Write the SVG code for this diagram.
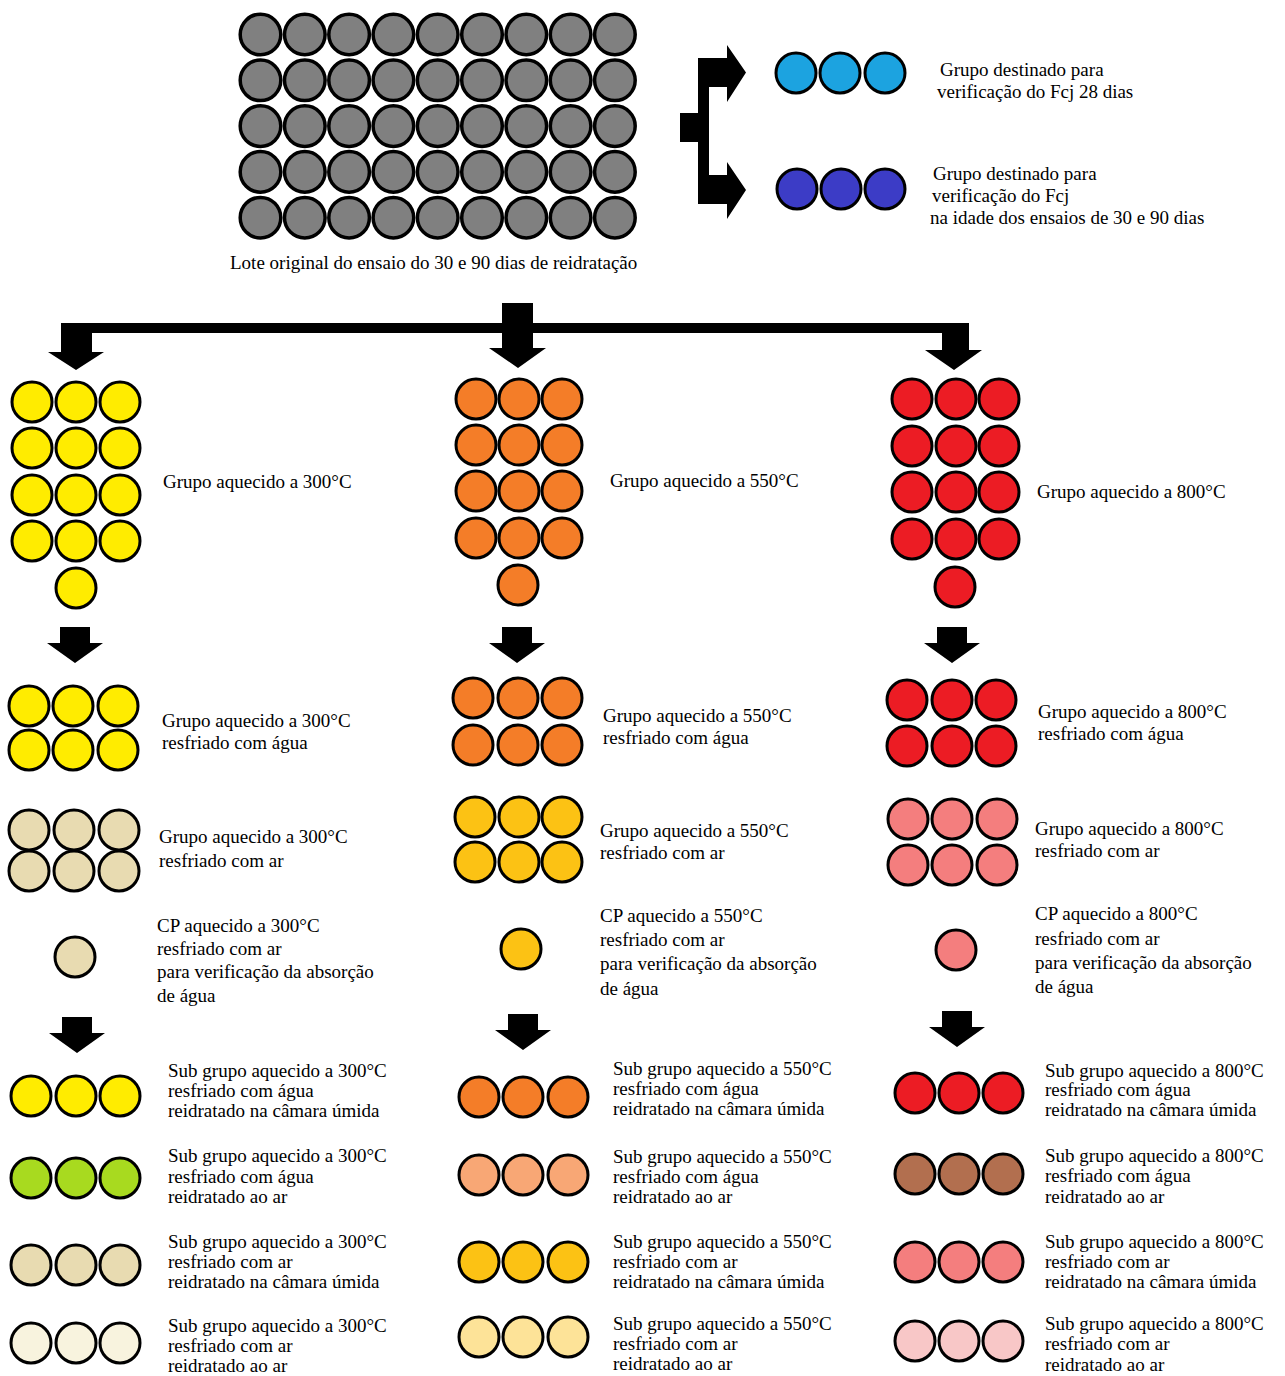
<svg xmlns="http://www.w3.org/2000/svg" width="1285" height="1376" viewBox="0 0 1285 1376">
<style>
text{font-family:"Liberation Serif","Times New Roman",serif;font-size:19px;fill:#000}
circle{stroke:#000;stroke-width:3}
.gr{fill:#808080;stroke-width:3.5}
.lb{fill:#1ca3e0}
.db{fill:#3c3cc6}
.y{fill:#ffec00}
.be{fill:#e8dbb1}
.cr{fill:#f8f3de}
.gn{fill:#a8da1f}
.o{fill:#f47d28}
.lo{fill:#f8a775}
.go{fill:#fcc214}
.lg{fill:#fde398}
.r{fill:#ec1c24}
.br{fill:#b26f4f}
.pk{fill:#f47e7e}
.lp{fill:#f8c7c7}
.arr{fill:#000}
</style>
<defs>
<path id="dn" d="M-15,-36 H15 V-20 H28 L0,0 L-28,-20 H-15 Z"/>
</defs>
<rect width="1285" height="1376" fill="#fff"/>

<g id="connectors">
<path class="arr" d="M61,323 H502 V303 H533 V323 H969 V350 H982 L954,370 L925,350 H942 V333 H533 V348 H546 L518,368 L489,348 H502 V333 H92 V352 H104 L76,370 L48,352 H61 Z"/>
<path class="arr" d="M698,58 H727 V45 L746,72.5 L727,102 V87 H709 V175 H727 V162 L746,190 L727,219 V204 H698 Z"/>
<rect class="arr" x="680" y="113" width="19" height="29"/>
<use href="#dn" x="75" y="663"/>
<use href="#dn" x="517" y="663"/>
<use href="#dn" x="952" y="663"/>
<use href="#dn" x="77" y="1053"/>
<use href="#dn" x="523" y="1050"/>
<use href="#dn" x="957" y="1047"/>
</g>

<g id="lote-original">
<g class="gr">
<circle class="gr" cx="260.5" cy="34.5" r="20.3"/><circle class="gr" cx="304.8" cy="34.5" r="20.3"/><circle class="gr" cx="349.1" cy="34.5" r="20.3"/><circle class="gr" cx="393.4" cy="34.5" r="20.3"/><circle class="gr" cx="437.7" cy="34.5" r="20.3"/><circle class="gr" cx="482" cy="34.5" r="20.3"/><circle class="gr" cx="526.3" cy="34.5" r="20.3"/><circle class="gr" cx="570.6" cy="34.5" r="20.3"/><circle class="gr" cx="614.9" cy="34.5" r="20.3"/>
<circle class="gr" cx="260.5" cy="80.3" r="20.3"/><circle class="gr" cx="304.8" cy="80.3" r="20.3"/><circle class="gr" cx="349.1" cy="80.3" r="20.3"/><circle class="gr" cx="393.4" cy="80.3" r="20.3"/><circle class="gr" cx="437.7" cy="80.3" r="20.3"/><circle class="gr" cx="482" cy="80.3" r="20.3"/><circle class="gr" cx="526.3" cy="80.3" r="20.3"/><circle class="gr" cx="570.6" cy="80.3" r="20.3"/><circle class="gr" cx="614.9" cy="80.3" r="20.3"/>
<circle class="gr" cx="260.5" cy="126.1" r="20.3"/><circle class="gr" cx="304.8" cy="126.1" r="20.3"/><circle class="gr" cx="349.1" cy="126.1" r="20.3"/><circle class="gr" cx="393.4" cy="126.1" r="20.3"/><circle class="gr" cx="437.7" cy="126.1" r="20.3"/><circle class="gr" cx="482" cy="126.1" r="20.3"/><circle class="gr" cx="526.3" cy="126.1" r="20.3"/><circle class="gr" cx="570.6" cy="126.1" r="20.3"/><circle class="gr" cx="614.9" cy="126.1" r="20.3"/>
<circle class="gr" cx="260.5" cy="171.9" r="20.3"/><circle class="gr" cx="304.8" cy="171.9" r="20.3"/><circle class="gr" cx="349.1" cy="171.9" r="20.3"/><circle class="gr" cx="393.4" cy="171.9" r="20.3"/><circle class="gr" cx="437.7" cy="171.9" r="20.3"/><circle class="gr" cx="482" cy="171.9" r="20.3"/><circle class="gr" cx="526.3" cy="171.9" r="20.3"/><circle class="gr" cx="570.6" cy="171.9" r="20.3"/><circle class="gr" cx="614.9" cy="171.9" r="20.3"/>
<circle class="gr" cx="260.5" cy="217.7" r="20.3"/><circle class="gr" cx="304.8" cy="217.7" r="20.3"/><circle class="gr" cx="349.1" cy="217.7" r="20.3"/><circle class="gr" cx="393.4" cy="217.7" r="20.3"/><circle class="gr" cx="437.7" cy="217.7" r="20.3"/><circle class="gr" cx="482" cy="217.7" r="20.3"/><circle class="gr" cx="526.3" cy="217.7" r="20.3"/><circle class="gr" cx="570.6" cy="217.7" r="20.3"/><circle class="gr" cx="614.9" cy="217.7" r="20.3"/>
</g>
<text x="230" y="269">Lote original do ensaio do 30 e 90 dias de reidratação</text>
</g>

<g id="grupo-fcj-28">
<circle class="lb" cx="796" cy="73" r="20"/><circle class="lb" cx="840" cy="73" r="20"/><circle class="lb" cx="885" cy="73" r="20"/>
<text x="940" y="76">Grupo destinado para</text>
<text x="937" y="98">verificação do Fcj 28 dias</text>
</g>

<g id="grupo-fcj-idade">
<circle class="db" cx="797" cy="189" r="20"/><circle class="db" cx="841" cy="189" r="20"/><circle class="db" cx="885" cy="189" r="20"/>
<text x="933" y="180">Grupo destinado para</text>
<text x="932" y="202">verificação do Fcj</text>
<text x="930" y="224">na idade dos ensaios de 30 e 90 dias</text>
</g>

<!-- 300 column -->
<g id="g300">
<circle class="y" cx="32" cy="402" r="20"/><circle class="y" cx="76" cy="402" r="20"/><circle class="y" cx="120" cy="402" r="20"/>
<circle class="y" cx="32" cy="448" r="20"/><circle class="y" cx="76" cy="448" r="20"/><circle class="y" cx="120" cy="448" r="20"/>
<circle class="y" cx="32" cy="495" r="20"/><circle class="y" cx="76" cy="495" r="20"/><circle class="y" cx="120" cy="495" r="20"/>
<circle class="y" cx="32" cy="541" r="20"/><circle class="y" cx="76" cy="541" r="20"/><circle class="y" cx="120" cy="541" r="20"/>
<circle class="y" cx="76" cy="588" r="20"/>
<text x="163" y="488">Grupo aquecido a 300°C</text>
</g>
<g id="g300-agua">
<circle class="y" cx="29" cy="706" r="20"/><circle class="y" cx="73" cy="706" r="20"/><circle class="y" cx="118" cy="706" r="20"/>
<circle class="y" cx="29" cy="750" r="20"/><circle class="y" cx="73" cy="750" r="20"/><circle class="y" cx="118" cy="750" r="20"/>
<text x="162" y="727">Grupo aquecido a 300°C</text>
<text x="162" y="749">resfriado com água</text>
</g>
<g id="g300-ar">
<circle class="be" cx="29" cy="830" r="20"/><circle class="be" cx="74" cy="830" r="20"/><circle class="be" cx="119" cy="830" r="20"/>
<circle class="be" cx="29" cy="871" r="20"/><circle class="be" cx="74" cy="871" r="20"/><circle class="be" cx="119" cy="871" r="20"/>
<text x="159" y="843">Grupo aquecido a 300°C</text>
<text x="159" y="867">resfriado com ar</text>
</g>
<g id="cp300">
<circle class="be" cx="75" cy="957" r="20"/>
<text x="157" y="932">CP aquecido a 300°C</text>
<text x="157" y="955">resfriado com ar</text>
<text x="157" y="978">para verificação da absorção</text>
<text x="157" y="1002">de água</text>
</g>
<g id="sg300-agua-camara">
<circle class="y" cx="31" cy="1096" r="20"/><circle class="y" cx="76" cy="1096" r="20"/><circle class="y" cx="120" cy="1096" r="20"/>
<text x="168" y="1077">Sub grupo aquecido a 300°C</text>
<text x="168" y="1097">resfriado com água</text>
<text x="168" y="1117">reidratado na câmara úmida</text>
</g>
<g id="sg300-agua-ar">
<circle class="gn" cx="31" cy="1178" r="20"/><circle class="gn" cx="76" cy="1178" r="20"/><circle class="gn" cx="120" cy="1178" r="20"/>
<text x="168" y="1162">Sub grupo aquecido a 300°C</text>
<text x="168" y="1183">resfriado com água</text>
<text x="168" y="1203">reidratado ao ar</text>
</g>
<g id="sg300-ar-camara">
<circle class="be" cx="31" cy="1265" r="20"/><circle class="be" cx="76" cy="1265" r="20"/><circle class="be" cx="120" cy="1265" r="20"/>
<text x="168" y="1248">Sub grupo aquecido a 300°C</text>
<text x="168" y="1268">resfriado com ar</text>
<text x="168" y="1288">reidratado na câmara úmida</text>
</g>
<g id="sg300-ar-ar">
<circle class="cr" cx="31" cy="1343" r="20"/><circle class="cr" cx="76" cy="1343" r="20"/><circle class="cr" cx="120" cy="1343" r="20"/>
<text x="168" y="1332">Sub grupo aquecido a 300°C</text>
<text x="168" y="1352">resfriado com ar</text>
<text x="168" y="1372">reidratado ao ar</text>
</g>

<!-- 550 column -->
<g id="g550">
<circle class="o" cx="476" cy="399" r="20"/><circle class="o" cx="519" cy="399" r="20"/><circle class="o" cx="562" cy="399" r="20"/>
<circle class="o" cx="476" cy="445" r="20"/><circle class="o" cx="519" cy="445" r="20"/><circle class="o" cx="562" cy="445" r="20"/>
<circle class="o" cx="476" cy="491" r="20"/><circle class="o" cx="519" cy="491" r="20"/><circle class="o" cx="562" cy="491" r="20"/>
<circle class="o" cx="476" cy="538" r="20"/><circle class="o" cx="519" cy="538" r="20"/><circle class="o" cx="562" cy="538" r="20"/>
<circle class="o" cx="518" cy="585" r="20"/>
<text x="610" y="487">Grupo aquecido a 550°C</text>
</g>
<g id="g550-agua">
<circle class="o" cx="473" cy="698" r="20"/><circle class="o" cx="518" cy="698" r="20"/><circle class="o" cx="562" cy="698" r="20"/>
<circle class="o" cx="473" cy="745" r="20"/><circle class="o" cx="518" cy="745" r="20"/><circle class="o" cx="562" cy="745" r="20"/>
<text x="603" y="722">Grupo aquecido a 550°C</text>
<text x="603" y="744">resfriado com água</text>
</g>
<g id="g550-ar">
<circle class="go" cx="475" cy="817" r="20"/><circle class="go" cx="519" cy="817" r="20"/><circle class="go" cx="562" cy="817" r="20"/>
<circle class="go" cx="475" cy="862" r="20"/><circle class="go" cx="519" cy="862" r="20"/><circle class="go" cx="562" cy="862" r="20"/>
<text x="600" y="837">Grupo aquecido a 550°C</text>
<text x="600" y="859">resfriado com ar</text>
</g>
<g id="cp550">
<circle class="go" cx="521" cy="949" r="20"/>
<text x="600" y="922">CP aquecido a 550°C</text>
<text x="600" y="946">resfriado com ar</text>
<text x="600" y="970">para verificação da absorção</text>
<text x="600" y="995">de água</text>
</g>
<g id="sg550-agua-camara">
<circle class="o" cx="479" cy="1097" r="20"/><circle class="o" cx="523" cy="1097" r="20"/><circle class="o" cx="568" cy="1097" r="20"/>
<text x="613" y="1075">Sub grupo aquecido a 550°C</text>
<text x="613" y="1095">resfriado com água</text>
<text x="613" y="1115">reidratado na câmara úmida</text>
</g>
<g id="sg550-agua-ar">
<circle class="lo" cx="479" cy="1175" r="20"/><circle class="lo" cx="523" cy="1175" r="20"/><circle class="lo" cx="568" cy="1175" r="20"/>
<text x="613" y="1163">Sub grupo aquecido a 550°C</text>
<text x="613" y="1183">resfriado com água</text>
<text x="613" y="1203">reidratado ao ar</text>
</g>
<g id="sg550-ar-camara">
<circle class="go" cx="479" cy="1262" r="20"/><circle class="go" cx="523" cy="1262" r="20"/><circle class="go" cx="568" cy="1262" r="20"/>
<text x="613" y="1248">Sub grupo aquecido a 550°C</text>
<text x="613" y="1268">resfriado com ar</text>
<text x="613" y="1288">reidratado na câmara úmida</text>
</g>
<g id="sg550-ar-ar">
<circle class="lg" cx="479" cy="1337" r="20"/><circle class="lg" cx="523" cy="1337" r="20"/><circle class="lg" cx="568" cy="1337" r="20"/>
<text x="613" y="1330">Sub grupo aquecido a 550°C</text>
<text x="613" y="1350">resfriado com ar</text>
<text x="613" y="1370">reidratado ao ar</text>
</g>

<!-- 800 column -->
<g id="g800">
<circle class="r" cx="912" cy="399" r="20"/><circle class="r" cx="956" cy="399" r="20"/><circle class="r" cx="999" cy="399" r="20"/>
<circle class="r" cx="912" cy="446" r="20"/><circle class="r" cx="956" cy="446" r="20"/><circle class="r" cx="999" cy="446" r="20"/>
<circle class="r" cx="912" cy="492" r="20"/><circle class="r" cx="956" cy="492" r="20"/><circle class="r" cx="999" cy="492" r="20"/>
<circle class="r" cx="912" cy="539" r="20"/><circle class="r" cx="956" cy="539" r="20"/><circle class="r" cx="999" cy="539" r="20"/>
<circle class="r" cx="955" cy="587" r="20"/>
<text x="1037" y="498">Grupo aquecido a 800°C</text>
</g>
<g id="g800-agua">
<circle class="r" cx="907" cy="700" r="20"/><circle class="r" cx="952" cy="700" r="20"/><circle class="r" cx="996" cy="700" r="20"/>
<circle class="r" cx="907" cy="746" r="20"/><circle class="r" cx="952" cy="746" r="20"/><circle class="r" cx="996" cy="746" r="20"/>
<text x="1038" y="718">Grupo aquecido a 800°C</text>
<text x="1038" y="740">resfriado com água</text>
</g>
<g id="g800-ar">
<circle class="pk" cx="908" cy="819" r="20"/><circle class="pk" cx="952" cy="819" r="20"/><circle class="pk" cx="997" cy="819" r="20"/>
<circle class="pk" cx="908" cy="865" r="20"/><circle class="pk" cx="952" cy="865" r="20"/><circle class="pk" cx="997" cy="865" r="20"/>
<text x="1035" y="835">Grupo aquecido a 800°C</text>
<text x="1035" y="857">resfriado com ar</text>
</g>
<g id="cp800">
<circle class="pk" cx="956" cy="950" r="20"/>
<text x="1035" y="920">CP aquecido a 800°C</text>
<text x="1035" y="945">resfriado com ar</text>
<text x="1035" y="969">para verificação da absorção</text>
<text x="1035" y="993">de água</text>
</g>
<g id="sg800-agua-camara">
<circle class="r" cx="915" cy="1093" r="20"/><circle class="r" cx="959" cy="1093" r="20"/><circle class="r" cx="1003" cy="1093" r="20"/>
<text x="1045" y="1077">Sub grupo aquecido a 800°C</text>
<text x="1045" y="1096">resfriado com água</text>
<text x="1045" y="1116">reidratado na câmara úmida</text>
</g>
<g id="sg800-agua-ar">
<circle class="br" cx="915" cy="1174" r="20"/><circle class="br" cx="959" cy="1174" r="20"/><circle class="br" cx="1003" cy="1174" r="20"/>
<text x="1045" y="1162">Sub grupo aquecido a 800°C</text>
<text x="1045" y="1182">resfriado com água</text>
<text x="1045" y="1203">reidratado ao ar</text>
</g>
<g id="sg800-ar-camara">
<circle class="pk" cx="915" cy="1262" r="20"/><circle class="pk" cx="959" cy="1262" r="20"/><circle class="pk" cx="1003" cy="1262" r="20"/>
<text x="1045" y="1248">Sub grupo aquecido a 800°C</text>
<text x="1045" y="1268">resfriado com ar</text>
<text x="1045" y="1288">reidratado na câmara úmida</text>
</g>
<g id="sg800-ar-ar">
<circle class="lp" cx="915" cy="1341" r="20"/><circle class="lp" cx="959" cy="1341" r="20"/><circle class="lp" cx="1003" cy="1341" r="20"/>
<text x="1045" y="1330">Sub grupo aquecido a 800°C</text>
<text x="1045" y="1350">resfriado com ar</text>
<text x="1045" y="1371">reidratado ao ar</text>
</g>
</svg>
